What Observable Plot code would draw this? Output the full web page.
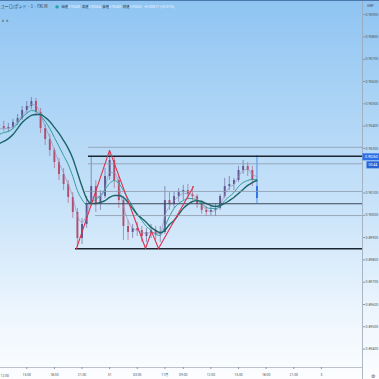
<!DOCTYPE html>
<html><head><meta charset="utf-8">
<script src="https://cdn.jsdelivr.net/npm/d3@7"></script>
<script src="https://cdn.jsdelivr.net/npm/@observablehq/plot@0.6"></script>
<style>
html,body{margin:0;padding:0;background:#fff;}
#wrap{position:relative;width:379px;height:379px;overflow:hidden;}
#wrap svg{display:block;}
</style></head><body><div id="wrap"></div>
<script>
// ---- data ----
const symbolTitle = "ユーロ/ポンド · 1 · FXCM";
const ohlcNames = ["始値", "高値", "安値", "終値"];
const ohlcValues = ["0.90249", "0.90264", "0.90249", "0.90260"];
const changeText = "+0.00011 (+0.01%)";
const currency = "GBP";
const lastPrice = 0.90260;
const countdown = "00:44";

// time axis: trading hours since Fri 12:00 (weekend gap removed)
const tickT = [0, 3, 6, 9, 12, 15, 18, 20, 23, 26, 29, 32, 35];
const tickLabels = ["12:00", "15:00", "18:00", "21:00", "31", "03:00", "11月", "09:00", "12:00", "15:00", "18:00", "21:00", "3"];
const priceTicks = [0.909, 0.908, 0.907, 0.906, 0.905, 0.904, 0.903, 0.901, 0.900, 0.899, 0.898, 0.897, 0.896, 0.895, 0.894];

const barTime = d3.range(0, 28.5, 0.5); // half-hourly bars
const openP  = [0.90407,0.90398,0.90389,0.90394,0.90416,0.90434,0.90470,0.90488,0.90510,0.90461,0.90389,0.90340,0.90291,0.90237,0.90183,0.90138,0.90080,0.90013,0.89896,0.89959,0.90049,0.90129,0.90049,0.90084,0.90174,0.90246,0.90156,0.90066,0.89950,0.89923,0.89941,0.89932,0.89905,0.89923,0.89932,0.89914,0.89923,0.90066,0.90049,0.90084,0.90102,0.90111,0.90093,0.90084,0.90049,0.90022,0.90013,0.90022,0.90031,0.90084,0.90129,0.90138,0.90156,0.90201,0.90219,0.90201,0.90129];
const highP  = [0.90425,0.90421,0.90412,0.90430,0.90452,0.90488,0.90510,0.90528,0.90524,0.90479,0.90407,0.90362,0.90300,0.90255,0.90210,0.90156,0.90102,0.90031,0.89986,0.90084,0.90259,0.90156,0.90111,0.90210,0.90291,0.90264,0.90174,0.90084,0.89977,0.89959,0.89968,0.89950,0.89941,0.89959,0.89950,0.89950,0.90129,0.90102,0.90102,0.90120,0.90134,0.90138,0.90129,0.90093,0.90066,0.90040,0.90040,0.90049,0.90093,0.90165,0.90174,0.90165,0.90219,0.90246,0.90237,0.90219,0.90268];
const lowP   = [0.90380,0.90376,0.90371,0.90385,0.90403,0.90425,0.90457,0.90474,0.90443,0.90367,0.90313,0.90264,0.90210,0.90156,0.90111,0.90053,0.89986,0.89856,0.89869,0.89941,0.90040,0.90013,0.90022,0.90075,0.90156,0.90120,0.90031,0.89887,0.89887,0.89896,0.89905,0.89878,0.89878,0.89896,0.89887,0.89878,0.89914,0.90022,0.90031,0.90058,0.90066,0.90075,0.90066,0.90031,0.90004,0.89995,0.89995,0.89995,0.90022,0.90075,0.90111,0.90111,0.90147,0.90183,0.90174,0.90129,0.90053];
const closeP = [0.90398,0.90389,0.90394,0.90416,0.90434,0.90470,0.90488,0.90510,0.90461,0.90389,0.90340,0.90291,0.90237,0.90183,0.90138,0.90080,0.90013,0.89896,0.89959,0.90049,0.90129,0.90049,0.90084,0.90174,0.90246,0.90156,0.90066,0.89950,0.89923,0.89941,0.89932,0.89905,0.89923,0.89932,0.89914,0.89923,0.90066,0.90049,0.90084,0.90102,0.90111,0.90093,0.90084,0.90049,0.90022,0.90013,0.90022,0.90031,0.90084,0.90129,0.90138,0.90156,0.90201,0.90219,0.90201,0.90156,0.90075];

const maSlow = [0.90322,0.90331,0.90344,0.90362,0.90389,0.90416,0.90434,0.90448,0.90452,0.90452,0.90439,0.90421,0.90394,0.90367,0.90335,0.90300,0.90255,0.90192,0.90129,0.90075,0.90053,0.90053,0.90058,0.90066,0.90080,0.90089,0.90089,0.90080,0.90058,0.90031,0.90004,0.89986,0.89968,0.89946,0.89932,0.89923,0.89932,0.89959,0.89977,0.90004,0.90031,0.90049,0.90062,0.90066,0.90062,0.90053,0.90044,0.90040,0.90044,0.90053,0.90066,0.90080,0.90098,0.90116,0.90134,0.90147,0.90156];
const maMid  = [0.90362,0.90371,0.90376,0.90389,0.90412,0.90439,0.90457,0.90470,0.90466,0.90448,0.90421,0.90389,0.90349,0.90309,0.90268,0.90228,0.90174,0.90111,0.90071,0.90049,0.90062,0.90071,0.90089,0.90116,0.90143,0.90156,0.90143,0.90111,0.90075,0.90040,0.90004,0.89977,0.89950,0.89932,0.89914,0.89910,0.89950,0.89995,0.90031,0.90053,0.90066,0.90075,0.90075,0.90066,0.90053,0.90035,0.90031,0.90031,0.90040,0.90066,0.90084,0.90102,0.90129,0.90147,0.90156,0.90161,0.90161];
const maFast = [0.90389,0.90389,0.90389,0.90398,0.90421,0.90448,0.90470,0.90497,0.90492,0.90452,0.90398,0.90349,0.90291,0.90237,0.90188,0.90138,0.90084,0.89999,0.89968,0.90004,0.90075,0.90084,0.90084,0.90120,0.90192,0.90192,0.90138,0.90040,0.89977,0.89941,0.89932,0.89923,0.89919,0.89923,0.89919,0.89919,0.89999,0.90040,0.90066,0.90084,0.90098,0.90098,0.90093,0.90071,0.90044,0.90026,0.90017,0.90022,0.90044,0.90093,0.90125,0.90138,0.90174,0.90201,0.90206,0.90183,0.90174];

// drawn zigzag
const zigT = [8.40, 11.99, 15.90, 16.55, 17.31, 21.11];
const zigP = [0.89851, 0.90291, 0.89851, 0.89928, 0.89851, 0.90129];

// drawn horizontal levels
const levelP = [0.90305, 0.90265, 0.90231, 0.90107, 0.90052, 0.89999, 0.89850];
const levelStart = [9.7, 9.7, 9.7, 9.38, 9.38, 10.46, 8.29];
const levelKind = ["thin", "thick", "thin", "thin", "mid", "thin", "thick"];

// ---- build ----
const W = 379, H = 379;
const xDomain = [0.1466, 39.465];
const yDomain = [0.893176, 0.909542];
const labelMap = new Map(tickT.map((t, i) => [t, tickLabels[i]]));
const candles = barTime.map((t, i) => ({t, o: openP[i], h: highP[i], l: lowP[i], c: closeP[i], last: i === barTime.length - 1}));
const ma = barTime.map((t, i) => ({t, s: maSlow[i], m: maMid[i], f: maFast[i]}));
const zig = zigT.map((t, i) => ({t, p: zigP[i]}));
const levels = levelP.map((p, i) => ({p, x1: levelStart[i], x2: xDomain[1], k: levelKind[i]}));

const upC = "#5d5890", downC = "#b24d6c", lastC = "#2d6fe8";
const isUp = d => !d.last && d.c >= d.o;
const isDown = d => !d.last && d.c < d.o;

const chart = Plot.plot({
  width: W, height: H,
  marginLeft: 0, marginRight: 17, marginTop: 2, marginBottom: 12,
  style: "background: linear-gradient(#8fc4f2 0%, #a9d2f5 25%, #c9e3f9 55%, #ecf5fd 82%, #fcfdff 100%); font-family: Roboto, 'Noto Sans CJK JP', sans-serif; color: #4b5563;",
  x: {domain: xDomain, label: null},
  y: {domain: yDomain, label: null},
  marks: [
    Plot.ruleY([yDomain[0]], {stroke: "#a9b3bf", strokeWidth: 0.8}),
    Plot.ruleX([xDomain[1]], {y1: yDomain[0] - 0.0006, y2: yDomain[1] + 0.0002, stroke: "#9aa6b4", strokeWidth: 0.8}),
    Plot.axisY({ticks: priceTicks, anchor: "right", tickSize: 2, tickPadding: 1, tickFormat: d => d.toFixed(5), fontSize: 3.5, stroke: "#8b96a4", fill: "#4b5563", label: null}),
    Plot.axisX({ticks: tickT.slice(1), tickFormat: d => labelMap.get(d), tickSize: 2, tickPadding: 4.5, fontSize: 3.4, stroke: "#8b96a4", fill: "#4b5563", label: null}),
    // candles
    Plot.ruleX(candles, {filter: isUp, x: "t", y1: "l", y2: "h", stroke: upC, strokeWidth: 0.6}),
    Plot.ruleX(candles, {filter: isDown, x: "t", y1: "l", y2: "h", stroke: downC, strokeWidth: 0.6}),
    Plot.ruleX(candles, {filter: isUp, x: "t", y1: "o", y2: "c", stroke: upC, strokeWidth: 1.9}),
    Plot.ruleX(candles, {filter: isDown, x: "t", y1: "o", y2: "c", stroke: downC, strokeWidth: 1.9}),
    Plot.ruleX(candles, {filter: d => d.last, x: "t", y1: "l", y2: "h", stroke: lastC, strokeWidth: 0.7}),
    Plot.ruleX(candles, {filter: d => d.last, x: "t", y1: "o", y2: "c", stroke: lastC, strokeWidth: 1.9}),
    // moving averages
    Plot.line(ma, {x: "t", y: "f", stroke: "#9a8fb8", strokeWidth: 0.7, curve: "monotone-x"}),
    Plot.line(ma, {x: "t", y: "m", stroke: "#2f9e98", strokeWidth: 1.0, curve: "monotone-x"}),
    Plot.line(ma, {x: "t", y: "s", stroke: "#1c6468", strokeWidth: 1.4, curve: "monotone-x"}),
    // drawings
    Plot.ruleY(levels, {filter: d => d.k === "thin", y: "p", x1: "x1", x2: "x2", stroke: "#8d99a8", strokeWidth: 0.8}),
    Plot.ruleY(levels, {filter: d => d.k === "mid", y: "p", x1: "x1", x2: "x2", stroke: "#3a4757", strokeWidth: 1.1}),
    Plot.ruleY(levels, {filter: d => d.k === "thick", y: "p", x1: "x1", x2: "x2", stroke: "#1b2530", strokeWidth: 1.5}),
    Plot.line(zig, {x: "t", y: "p", stroke: "#e03150", strokeWidth: 1.1})
  ]
});

document.getElementById("wrap").appendChild(chart);

// overlay: first time label, price label, countdown, header
const svg = d3.select(chart);
const ys = chart.scale("y"), xs = chart.scale("x");
const axisX0 = xs.range[1];
const axisY0 = ys.range[0];
const txt = (x, y, size, fill, family, s) => svg.append("text").attr("x", x).attr("y", y)
  .attr("font-size", size).attr("fill", fill).attr("font-family", family).attr("text-anchor", "start").text(s);

txt(0.5, axisY0 + 9.5, 3.4, "#4b5563", "Roboto, sans-serif", tickLabels[0]);

const yy = ys.apply(lastPrice);
svg.append("rect").attr("x", axisX0 + 0.5).attr("y", yy - 3.5).attr("width", W - axisX0).attr("height", 7).attr("fill", lastC);
txt(axisX0 + 3, yy + 1.2, 3.5, "#fff", "Roboto, sans-serif", lastPrice.toFixed(5));
svg.append("rect").attr("x", axisX0 + 4.5).attr("y", yy + 4.5).attr("width", W - axisX0 - 4.5).attr("height", 7).attr("fill", "#2a63d6");
txt(axisX0 + 6.5, yy + 9.2, 3.5, "#fff", "Roboto, sans-serif", countdown);

// top border and currency
svg.append("rect").attr("x", 0).attr("y", 0).attr("width", W).attr("height", 1).attr("fill", "#4c79ab");
txt(axisX0 + 5, 7, 3.5, "#4b5563", "Roboto, sans-serif", currency);

// header: symbol, status dot, OHLC values (each group placed on its own)
txt(0.5, 7.5, 4.4, "#2b3440", "'Noto Sans CJK JP', sans-serif", symbolTitle)
  .attr("textLength", 47).attr("lengthAdjust", "spacingAndGlyphs");
txt(55, 7.5, 4.4, "#26a69a", "DejaVu Sans, sans-serif", "●");
ohlcNames.forEach((n, i) => {
  const g = txt(61.5 + i * 20.5, 7.5, 3.3, "#2b3440", "'Noto Sans CJK JP', sans-serif", null);
  g.append("tspan").attr("fill", "#2b3440").text(n);
  g.append("tspan").attr("fill", "#eef6ff").attr("font-family", "Roboto, sans-serif").text(ohlcValues[i]);
});
txt(144, 7.5, 3.6, "#eef6ff", "Roboto, sans-serif", changeText);
txt(1.5, 22, 4, "#2b3440", "DejaVu Sans, sans-serif", "∨ ∧");
txt(W - 8, H - 1.5, 5, "#4b5563", "DejaVu Sans, sans-serif", "⚙");
</script></body></html>
